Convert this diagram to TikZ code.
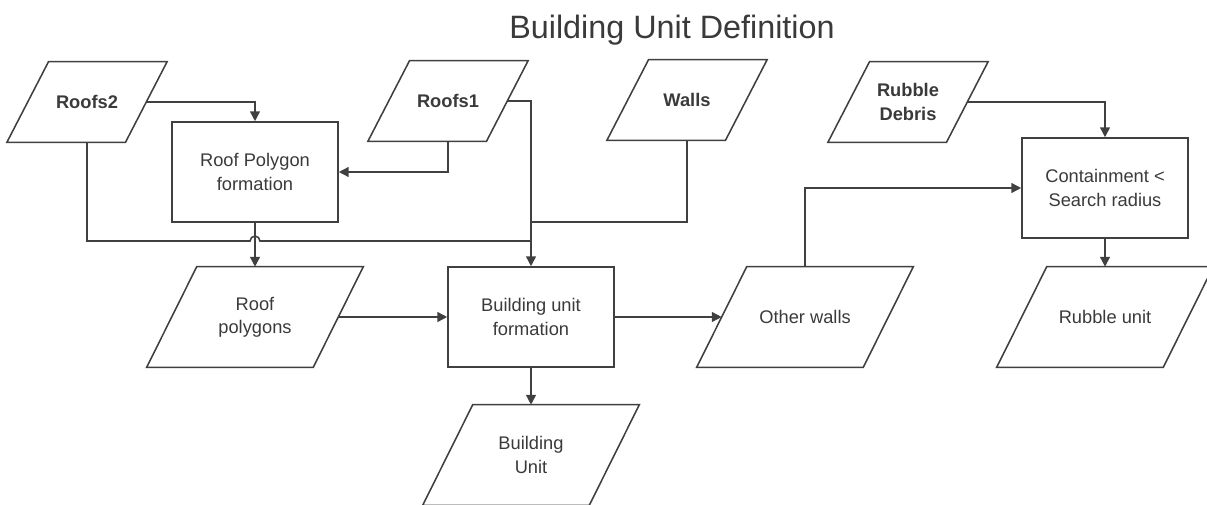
\documentclass[tikz,border=0pt]{standalone}
\usepackage{fontspec}
\setmainfont{Liberation Sans}
\usepackage{xcolor}
\usetikzlibrary{arrows.meta}
\definecolor{lineGray}{HTML}{404040}
\definecolor{textGray}{HTML}{3A3A3A}
\tikzset{%
  processNode/.style={rectangle, draw=lineGray, line width=1.1pt, minimum width=4.15cm, minimum height=2.5cm, align=center, text=textGray, font=\fontsize{13}{16.5}\selectfont},
  % parallelogram outline round a plain node, #1 = half the slant
  slantBox/.style={append after command={\pgfextra{\draw[lineGray, line width=1.1pt, line join=miter]
      ([xshift=-#1]\tikzlastnode.south west) -- ([xshift=#1]\tikzlastnode.north west)
      -- ([xshift=#1]\tikzlastnode.north east) -- ([xshift=-#1]\tikzlastnode.south east) -- cycle;}}},
  dataNode/.style={rectangle, minimum width=4.15cm, minimum height=2.5cm, align=center, text=textGray, font=\fontsize{13}{16.5}\selectfont, slantBox=0.625cm},
  % input layers
  inputNode/.style={rectangle, minimum width=2.95cm, minimum height=2cm, align=center, text=textGray, font=\bfseries\fontsize{13}{16.5}\selectfont, slantBox=0.52cm},
  flow/.style={draw=lineGray, line width=1.1pt, -{Triangle[length=7pt,width=7pt]}},
  link/.style={draw=lineGray, line width=1.1pt}}

\begin{document}
\begin{tikzpicture}[x=0.025cm,y=-0.025cm]
        \useasboundingbox (0,0) rectangle (1207,505);
        %Nodes
        \node[text=textGray,font=\fontsize{23}{27}\selectfont] (title) at (672,30) {Building Unit Definition};

        \node[inputNode] (roofs2) at (87,102) {Roofs2};
        \node[inputNode] (roofs1) at (448,101) {Roofs1};
        \node[inputNode] (walls) at (687,100) {Walls};
        \node[inputNode] (rubble) at (908,102) {Rubble\\Debris};

        \node[processNode] (roofForm) at (255,172) {Roof Polygon\\formation};
        \node[processNode] (unitForm) at (531,317) {Building unit\\formation};
        \node[processNode] (contain) at (1105,188) {Containment <\\Search radius};

        \node[dataNode] (roofPoly) at (255,317) {Roof\\polygons};
        \node[dataNode] (otherWalls) at (805,317) {Other walls};
        \node[dataNode] (rubbleUnit) at (1105,317) {Rubble unit};
        \node[dataNode] (buildUnit) at (531,455) {Building\\Unit};

        \coordinate (roofJoin) at (unitForm.north |- 0,241);
        \coordinate (wallJoin) at (unitForm.north |- 0,222);
        \coordinate (hop) at (roofForm.south |- roofJoin);

        %Lines
        \draw[flow] (roofs2.east) -| (roofForm.north);
        \draw[flow] (roofs1.south) |- (roofForm.east);
        \draw[flow] (roofs1.east) -| (unitForm.north);
        \draw[link] (roofs2.south) |- ([xshift=-3.5pt]hop) arc[start angle=180, end angle=0, radius=3.5pt] -- (roofJoin);
        \draw[link] (walls.south) |- (wallJoin);
        \draw[flow] (roofForm) -- (roofPoly);
        \draw[flow] (roofPoly.east) -- (unitForm.west);
        \draw[flow] (unitForm) -- (buildUnit);
        \draw[flow] (unitForm.east) -- (otherWalls.west);
        \draw[flow] (otherWalls.north) |- (contain.west);
        \draw[flow] (rubble.east) -| (contain.north);
        \draw[flow] (contain) -- (rubbleUnit);
    \end{tikzpicture}
\end{document}
